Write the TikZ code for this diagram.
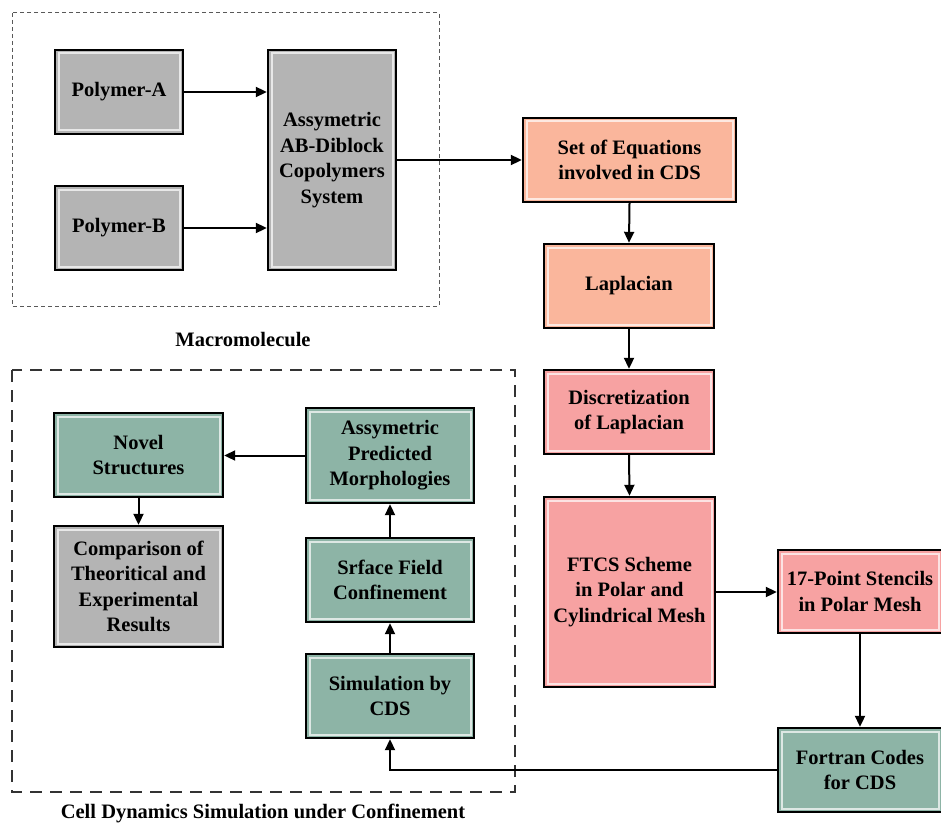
\documentclass[tikz,border=0pt]{standalone}
\usepackage{fontspec}
\setmainfont{Liberation Serif}
\usetikzlibrary{arrows.meta}
\definecolor{gbox}{RGB}{180,180,180}
\definecolor{salmon}{RGB}{250,182,156}
\definecolor{pinkb}{RGB}{247,162,162}
\definecolor{tealb}{RGB}{141,180,166}
\tikzset{
  bx/.style={draw=black, line width=2.4pt, inner sep=0pt, align=center,
    font=\bfseries\fontsize{20.5}{25.5}\selectfont,
    path picture={\draw[white, opacity=0.7, line width=2pt]
      ([shift={(3.5pt,-3.5pt)}]path picture bounding box.north west) rectangle
      ([shift={(-3.5pt,3.5pt)}]path picture bounding box.south east);}},
  gr/.style={bx, fill=gbox},
  sa/.style={bx, fill=salmon},
  pk/.style={bx, fill=pinkb},
  te/.style={bx, fill=tealb},
  arr/.style={line width=2pt, -{Triangle[length=11pt,width=10pt]}},
  lab/.style={font=\bfseries\fontsize{20.5}{25}\selectfont}
}
\begin{document}
\begin{tikzpicture}[x=1pt,y=-1pt]
\useasboundingbox (0,0) rectangle (941,829);
% dashed groups
\draw[gray!70!black, line width=1pt, dash pattern=on 4pt off 3pt] (12,13) rectangle (439,306);
\draw[black!80, line width=1.6pt, dash pattern=on 12pt off 8pt] (12,370) rectangle (515,792);
% nodes
\node[gr, minimum width=128, minimum height=84] (pa) at (119,92) {Polymer-A};
\node[gr, minimum width=128, minimum height=84] (pb) at (119,228) {Polymer-B};
\node[gr, minimum width=128, minimum height=220] (ab) at (332,160) {Assymetric\\AB-Diblock\\Copolymers\\System};
\node[sa, minimum width=213, minimum height=84] (eq) at (629.5,160) {Set of Equations\\involved in CDS};
\node[sa, minimum width=170, minimum height=84] (lap) at (629,286) {Laplacian};
\node[pk, minimum width=170, minimum height=84] (disc) at (629,412) {Discretization\\of Laplacian};
\node[pk, minimum width=171, minimum height=190] (ftcs) at (629.5,592) {FTCS Scheme\\in Polar and\\Cylindrical Mesh};
\node[pk, minimum width=164, minimum height=83] (stn) at (860,591.5) {17-Point Stencils\\in Polar Mesh};
\node[te, minimum width=164, minimum height=84] (fort) at (860,770) {Fortran Codes\\for CDS};
\node[te, minimum width=169, minimum height=84] (nov) at (138.5,455) {Novel\\Structures};
\node[gr, minimum width=169, minimum height=121] (cmp) at (138.5,586.5) {Comparison of\\Theoritical and\\Experimental\\Results};
\node[te, minimum width=168, minimum height=95] (pred) at (390,455.5) {Assymetric\\Predicted\\Morphologies};
\node[te, minimum width=168, minimum height=84] (surf) at (390,580) {Srface Field\\Confinement};
\node[te, minimum width=168, minimum height=84] (sim) at (390,696) {Simulation by\\CDS};
% labels
\node[lab] (l1) at (243,340) {Macromolecule};
\node[lab] (l2) at (263,813) {Cell Dynamics Simulation under Confinement};
% connectors
\draw[arr] (pa.east) -- (pa.east -| ab.west);
\draw[arr] (pb.east) -- (pb.east -| ab.west);
\draw[arr] (ab.east) -- (eq.west);
\draw[arr] (eq.south) -- (lap.north);
\draw[arr] (lap.south) -- (disc.north);
\draw[arr] (disc.south) -- (ftcs.north);
\draw[arr] (ftcs.east) -- (ftcs.east -| stn.west);
\draw[arr] (stn.south) -- (fort.north);
\draw[arr] (fort.west) -- (fort.west -| sim.south) -- (sim.south);
\draw[arr] (sim.north) -- (surf.south);
\draw[arr] (surf.north) -- (pred.south);
\draw[arr] (pred.west) -- (pred.west -| nov.east);
\draw[arr] (nov.south) -- (cmp.north);
\end{tikzpicture}
\end{document}
